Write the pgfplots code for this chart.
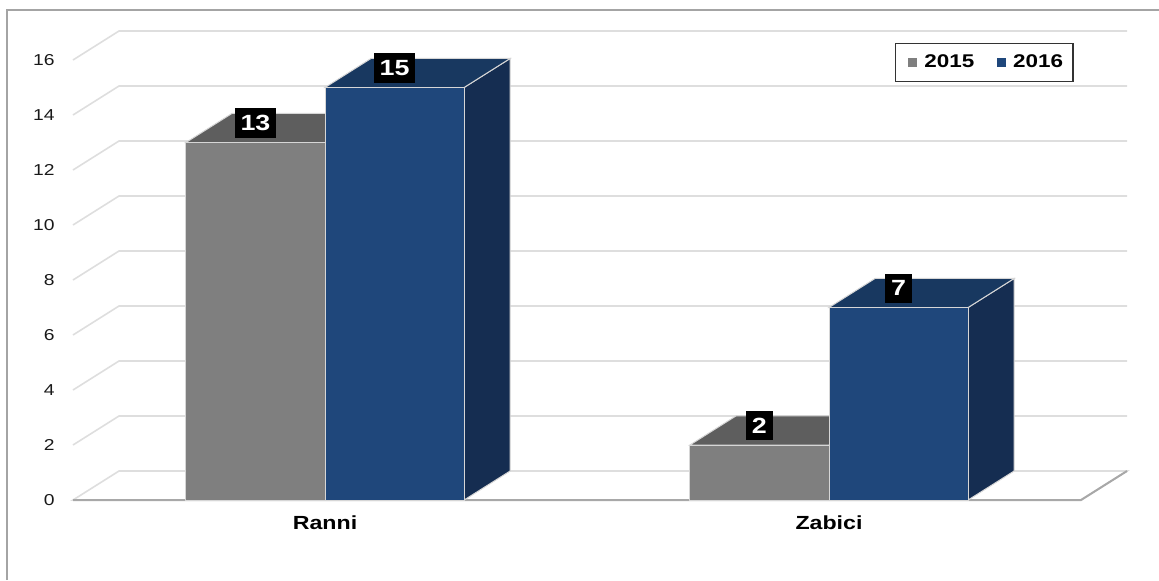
\documentclass[border=0pt]{standalone}
\usepackage{fontspec}
\setmainfont{Liberation Sans}[FakeStretch=1.22]
\usepackage{pgfplots}
\pgfplotsset{compat=1.18}

\definecolor{gfront}{HTML}{7F7F7F}
\definecolor{gtop}{HTML}{5E5E5E}
\definecolor{gside}{HTML}{555555}
\definecolor{bfront}{HTML}{1F477B}
\definecolor{btop}{HTML}{183860}
\definecolor{bside}{HTML}{152D51}
\definecolor{gridc}{HTML}{DEDEDE}
\definecolor{floorc}{HTML}{A8A8A8}
\definecolor{edgec}{HTML}{D6D6D6}
\definecolor{framec}{HTML}{A4A4A4}

% depth of the 3-D effect, in axis units
\newcommand{\dx}{0.0913}
\newcommand{\dy}{1.055}

% \threedbar{left x}{width}{value}{front}{top}{side}
\newcommand{\threedbar}[6]{%
  \pgfmathsetmacro\xa{#1}%
  \pgfmathsetmacro\xb{#1+#2}%
  \pgfmathsetmacro\xc{#1+\dx}%
  \pgfmathsetmacro\xd{#1+#2+\dx}%
  \pgfmathsetmacro\yt{#3+\dy}%
  \addplot[fill=#6, draw=edgec, line width=0.5pt, forget plot]
    coordinates {(\xb,0) (\xd,\dy) (\xd,\yt) (\xb,#3)} -- cycle;
  \addplot[fill=#5, draw=edgec, line width=0.5pt, forget plot]
    coordinates {(\xa,#3) (\xb,#3) (\xd,\yt) (\xc,\yt)} -- cycle;
  \addplot[fill=#4, draw=edgec, line width=0.5pt, forget plot]
    coordinates {(\xa,0) (\xb,0) (\xb,#3) (\xa,#3)} -- cycle;
}

\begin{document}
\begin{tikzpicture}
\useasboundingbox (0,0) rectangle (579.5pt,290pt);
\draw[framec, line width=1pt] (3.5pt,0pt) -- (3.5pt,285pt) -- (579.5pt,285pt);
\begin{axis}[
    at={(36.5pt,40pt)}, anchor=south west,
    scale only axis, width=529.2pt, height=235.125pt,
    xmin=0.5, xmax=2.6, ymin=0, ymax=17.1,
    clip=false,
    axis line style={draw=none},
    tick style={draw=none}, major tick length=0pt,
    ytick={0,2,...,16},
    xtick={1,2}, xticklabels={Ranni,Zabici},
    /pgf/number format/assume math mode=true,
    yticklabel style={inner sep=0pt, xshift=-9pt, text=black!90,
      font=\fontsize{7.9}{9}\selectfont},
    xticklabel style={anchor=base, inner sep=0pt, yshift=-14.5pt, text=black,
      font=\bfseries\fontsize{9.5}{11}\selectfont},
    legend columns=2,
    legend image code/.code={\path (-3pt,0pt);
      \fill[#1, draw=none] (0pt,-2.3pt) rectangle (4.6pt,2.3pt);},
    legend style={at={(axis description cs:0.7766,0.9718)}, anchor=north west,
      draw=black!80, line width=0.6pt, inner xsep=3pt, inner ysep=3.5pt,
      font=\bfseries\fontsize{9.2}{11}\selectfont,
      /tikz/every odd column/.append style={column sep=1.5pt},
      /tikz/every even column/.append style={column sep=6pt}},
]
% floor
\addplot[fill=white, draw=gridc, line width=0.8pt, forget plot]
  coordinates {(0.5,0) (2.5,0) (2.5913,1.055) (0.5913,1.055)} -- cycle;
\addplot[draw=floorc, line width=1pt, forget plot]
  coordinates {(0.5,0) (2.5,0) (2.5913,1.055)};
% back wall gridlines
\pgfplotsinvokeforeach{2,4,6,8,10,12,14,16}{
  \draw[gridc, line width=0.8pt] (axis cs:0.5,#1) -- (axis cs:0.5913,#1+1.055)
    -- (axis cs:2.5913,#1+1.055);
}
% bars: Ranni 2015 = 13, 2016 = 15; Zabici 2015 = 2, 2016 = 7
\threedbar{0.724}{0.276}{13}{gfront}{gtop}{gside}
\threedbar{1.000}{0.276}{15}{bfront}{btop}{bside}
\threedbar{1.724}{0.276}{2}{gfront}{gtop}{gside}
\threedbar{2.000}{0.276}{7}{bfront}{btop}{bside}
% value labels
\addplot[draw=none, mark=none, forget plot, nodes near coords, point meta=y,
  every node near coord/.append style={anchor=center, yshift=9.7pt,
    fill=black, text=white, inner xsep=3pt, inner ysep=3.5pt,
    font=\bfseries\fontsize{11}{12}\selectfont}]
  coordinates {(0.862,13) (1.138,15) (1.862,2) (2.138,7)};
\addlegendimage{fill=gfront}
\addlegendentry{2015}
\addlegendimage{fill=bfront}
\addlegendentry{2016}
\end{axis}
\end{tikzpicture}
\end{document}
